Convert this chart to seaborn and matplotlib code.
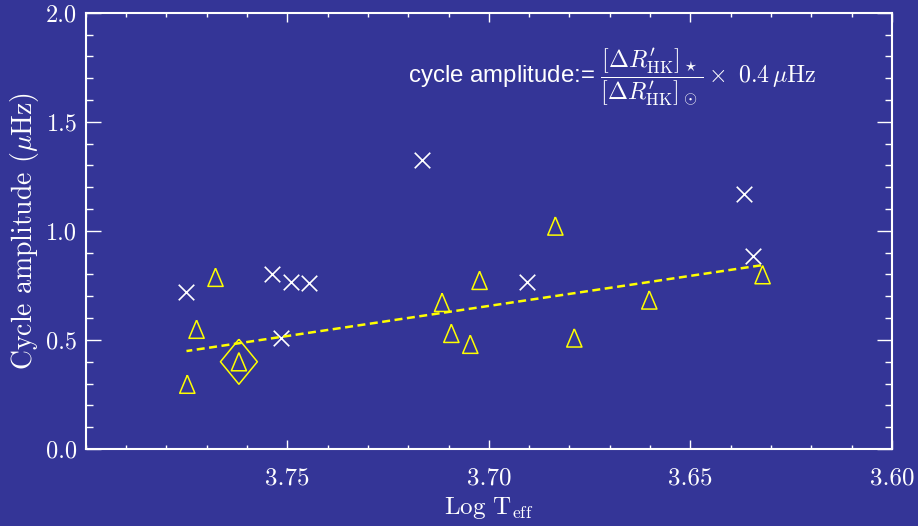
import numpy as np
import pandas as pd
import seaborn as sns
import matplotlib
matplotlib.use("Agg")
from matplotlib import pyplot as plt
from matplotlib.ticker import MultipleLocator

# stars with measured cycles (white crosses)
cross_logteff = [3.775, 3.7539, 3.7491, 3.7446, 3.7516, 3.7165, 3.6905, 3.6368, 3.6344]
cross_amp = [0.721, 0.802, 0.767, 0.762, 0.508, 1.325, 0.767, 1.168, 0.885]

# stars with scaled amplitudes (yellow triangles)
tri_logteff = [3.7678, 3.7725, 3.762, 3.7748, 3.6835, 3.7023, 3.7116, 3.7093,
               3.7046, 3.6788, 3.6602, 3.6321]
tri_amp = [0.787, 0.549, 0.400, 0.297, 1.022, 0.773, 0.672, 0.530,
           0.480, 0.509, 0.683, 0.799]

# the Sun (highlighted with a diamond)
sun_logteff = [3.762]
sun_amp = [0.400]

# linear trend through the triangles
fit_logteff = [3.775, 3.6325]
fit_amp = [0.449, 0.842]

x_ticks = [3.75, 3.70, 3.65, 3.60]
y_ticks = [0.0, 0.5, 1.0, 1.5, 2.0]

BG = "#343597"
FG = "white"
YEL = "#ffff00"

sns.set_theme(style="ticks")
plt.rcParams.update({
    "font.family": ["cmr10", "DejaVu Serif"],
    "mathtext.fontset": "cm",
    "axes.formatter.use_mathtext": True,
    "axes.unicode_minus": False,
})

pdf_cross = pd.DataFrame({"logteff": cross_logteff, "amp": cross_amp})
pdf_tri = pd.DataFrame({"logteff": tri_logteff, "amp": tri_amp})
pdf_sun = pd.DataFrame({"logteff": sun_logteff, "amp": sun_amp})
pdf_fit = pd.DataFrame({"logteff": fit_logteff, "amp": fit_amp})

tri_marker = [(0, 0.5), (-0.42, -0.5), (0.42, -0.5), (0, 0.5)]
dia_marker = [(0, 0.5), (0.41, 0), (0, -0.5), (-0.41, 0), (0, 0.5)]

f = plt.figure(figsize=(9.18, 5.26), dpi=100, facecolor=BG)
ax = f.add_axes([85.7 / 918, 1 - 449 / 526, 806.3 / 918, 436.3 / 526])
ax.set_facecolor(BG)

sns.lineplot(x="logteff", y="amp", data=pdf_fit, color=YEL, lw=1.8,
             dashes=False, ax=ax).lines[-1].set_dashes((3.2, 1.8))
sns.scatterplot(x="logteff", y="amp", data=pdf_cross, marker="x", color=FG,
                s=125, linewidth=1.2, ax=ax)
sns.scatterplot(x="logteff", y="amp", data=pdf_tri, marker=tri_marker,
                facecolor="none", edgecolor=YEL, s=170, linewidth=1.1, ax=ax)
sns.scatterplot(x="logteff", y="amp", data=pdf_sun, marker=dia_marker,
                facecolor="none", edgecolor=YEL, s=1050, linewidth=1.1, ax=ax)

ax.set_xlim(3.80, 3.60)
ax.set_ylim(0.0, 2.0)
ax.set_xticks(x_ticks)
ax.set_xticklabels([f"{v:.2f}" for v in x_ticks])
ax.set_yticks(y_ticks)
ax.set_yticklabels([f"{v:.1f}" for v in y_ticks])
ax.xaxis.set_minor_locator(MultipleLocator(0.01))
ax.yaxis.set_minor_locator(MultipleLocator(0.1))

for side in ["left", "right", "top", "bottom"]:
    ax.spines[side].set_color(FG)
    ax.spines[side].set_linewidth(1.5)
ax.tick_params(axis="x", which="major", direction="in", length=6.7, width=1.0,
               color=FG, labelcolor=FG, labelsize=18, pad=13, top=True)
ax.tick_params(axis="x", which="minor", direction="in", length=3.2, width=1.0,
               color=FG, top=True)
ax.tick_params(axis="y", which="major", direction="in", length=10.5, width=1.0,
               color=FG, labelcolor=FG, labelsize=17.5, pad=6, right=True)
ax.tick_params(axis="y", which="minor", direction="in", length=5.3, width=1.0,
               color=FG, right=True)

ax.set_xlabel(r"Log T$_{\rm eff}$", color=FG, fontsize=18, labelpad=4)
ax.set_ylabel(r"Cycle amplitude ($\mu$Hz)", color=FG, fontsize=20, labelpad=4)

ax.text(0.40, 0.852,
        r"cycle amplitude:= $\dfrac{[\Delta R^{\prime}_{\rm HK}]_\star}"
        r"{[\Delta R^{\prime}_{\rm HK}]_\odot}\times\ 0.4\,\mu{\rm Hz}$",
        transform=ax.transAxes, color=FG, fontsize=17.3,
        family=["Liberation Sans", "DejaVu Sans"], va="center", ha="left")

f.savefig("out.png", dpi=100, facecolor=BG)
